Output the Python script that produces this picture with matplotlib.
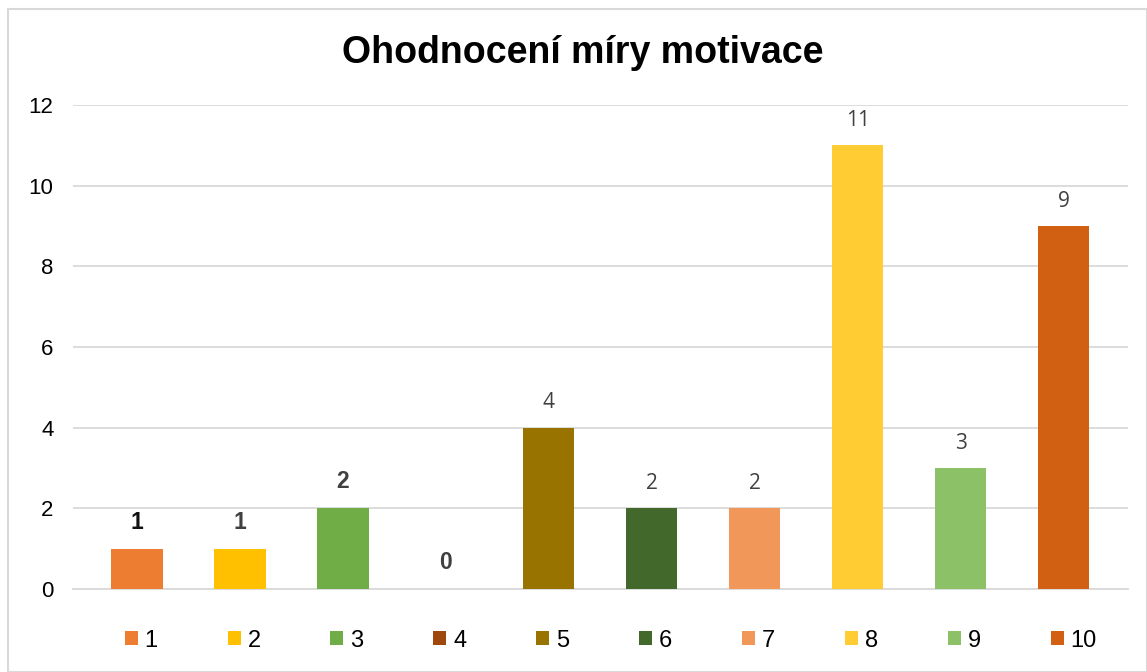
import matplotlib.pyplot as plt
from matplotlib.patches import Rectangle

categories = ["1", "2", "3", "4", "5", "6", "7", "8", "9", "10"]
counts = [1, 1, 2, 0, 4, 2, 2, 11, 3, 9]
colors = ["#ED7D31", "#FFC000", "#70AD47", "#9E480E", "#997300",
          "#43682B", "#F1975A", "#FFCD33", "#8CC168", "#D26012"]
# first labels are bold in the original
bold_labels = [True, True, True, True, False, False, False, False, False, False]
label_colors = ["#111111", "#404040", "#404040", "#404040", "#404040",
                "#404040", "#404040", "#404040", "#404040", "#404040"]

plt.rcParams['font.family'] = ['Liberation Sans', 'DejaVu Sans']

fig = plt.figure(figsize=(11.47, 6.72), dpi=100)
ax = fig.add_axes([0.0636, 0.1235, 0.9194, 0.7202])

for i, (cat, val, col) in enumerate(zip(categories, counts, colors)):
    ax.bar(i, val, width=0.5, color=col, label=cat, zorder=3)
    if bold_labels[i]:
        ax.annotate(str(val), (i, val), xytext=(0, 19), textcoords="offset points",
                    ha="center", va="center", fontsize=16.5, fontweight="bold",
                    color=label_colors[i])
    else:
        ax.annotate(str(val), (i, val), xytext=(0, 18), textcoords="offset points",
                    ha="center", va="center", fontsize=15, family="Open Sans",
                    color=label_colors[i])

ax.set_ylim(0, 12)
ax.set_xlim(-0.62, 9.62)
ax.set_yticks(range(0, 13, 2))
ax.set_xticks([])
ax.grid(axis="y", color="#d9d9d9", linewidth=1.3, zorder=0)
for s in ax.spines.values():
    s.set_visible(False)
ax.spines["bottom"].set_visible(True)
ax.spines["bottom"].set_color("#d9d9d9")
ax.spines["bottom"].set_linewidth(1.3)
ax.tick_params(axis="y", length=0, labelsize=16, pad=14)

fig.suptitle("Ohodnocení míry motivace", fontsize=27, fontweight="bold",
             x=0.508, y=0.948)

ax.legend(loc="upper center", bbox_to_anchor=(0.51, -0.04), ncol=10, frameon=False,
          fontsize=17, handlelength=0.55, handleheight=0.55, handletextpad=0.3,
          columnspacing=2.95)

fig.patches.append(Rectangle((0.007, 0.0), 0.993, 0.987, transform=fig.transFigure,
                             fill=False, edgecolor="#d9d9d9", linewidth=1.5))

fig.savefig("out.png", dpi=100)
